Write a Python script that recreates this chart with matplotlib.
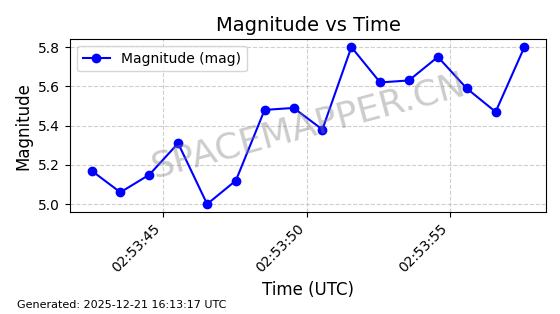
import matplotlib
matplotlib.use('agg')
import matplotlib.pyplot as plt
import matplotlib.dates as mdates
import pandas as pd

# observation times (UTC) and magnitudes
times = ["2025-12-21 02:53:42.52", "2025-12-21 02:53:43.52", "2025-12-21 02:53:44.53",
         "2025-12-21 02:53:45.53", "2025-12-21 02:53:46.54", "2025-12-21 02:53:47.54",
         "2025-12-21 02:53:48.54", "2025-12-21 02:53:49.55", "2025-12-21 02:53:50.55",
         "2025-12-21 02:53:51.56", "2025-12-21 02:53:52.56", "2025-12-21 02:53:53.56",
         "2025-12-21 02:53:54.57", "2025-12-21 02:53:55.57", "2025-12-21 02:53:56.58",
         "2025-12-21 02:53:57.58"]
magnitudes = [5.17, 5.06, 5.15, 5.31, 5.00, 5.12, 5.48, 5.49, 5.38, 5.80,
              5.62, 5.63, 5.75, 5.59, 5.47, 5.80]
series_label = 'Magnitude (mag)'
generated = 'Generated: 2025-12-21 16:13:17 UTC'


def main():
	t = pd.to_datetime(times)
	fig, ax = plt.subplots(figsize=(5.6, 3.14), dpi=100)
	ax.plot(t, magnitudes, 'o-', color='blue', markersize=6, linewidth=1.5, label=series_label)
	ax.set_title('Magnitude vs Time', fontsize=14)
	ax.set_xlabel('Time (UTC)', fontsize=12)
	ax.set_ylabel('Magnitude', fontsize=12)
	ax.grid(True, linestyle='--', alpha=0.6)
	ax.legend(loc='upper left')
	ax.xaxis.set_major_locator(mdates.SecondLocator(bysecond=range(0, 60, 5)))
	ax.xaxis.set_major_formatter(mdates.DateFormatter('%H:%M:%S'))
	plt.setp(ax.get_xticklabels(), rotation=45, ha='right')
	ax.text(0.5, 0.5, 'SPACEMAPPER.CN', transform=ax.transAxes, fontsize=26,
		color='gray', alpha=0.4, ha='center', va='center', rotation=15)
	fig.text(0.03, 0.02, generated, fontsize=8)
	fig.subplots_adjust(left=0.125, right=0.975, top=0.875, bottom=0.325)
	fig.savefig('out.png', dpi=100)


if __name__ == "__main__":
	main()
